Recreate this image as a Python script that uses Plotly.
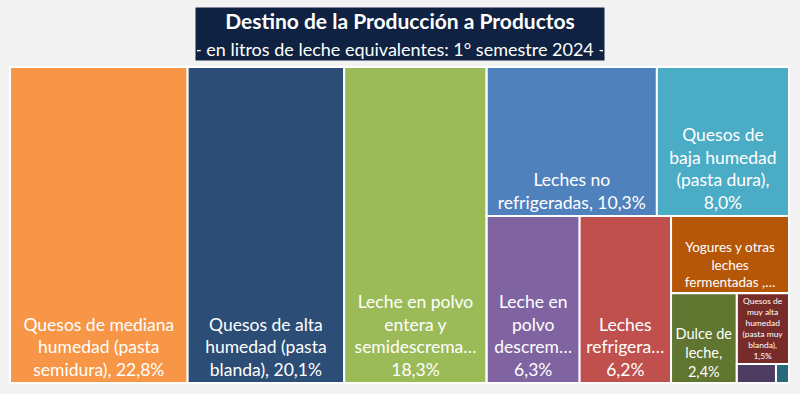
import plotly.graph_objects as go

# ---- data -------------------------------------------------------------
categories = [
    "Quesos de mediana humedad (pasta semidura)",
    "Quesos de alta humedad (pasta blanda)",
    "Leche en polvo entera y semidescremada",
    "Leches no refrigeradas",
    "Quesos de baja humedad (pasta dura)",
    "Leche en polvo descremada",
    "Leches refrigeradas",
    "Yogures y otras leches fermentadas",
    "Dulce de leche",
    "Quesos de muy alta humedad (pasta muy blanda)",
    "Otros A",
    "Otros B",
]
shares = [22.8, 20.1, 18.3, 10.3, 8.0, 6.3, 6.2, 3.7, 2.4, 1.5, 0.3, 0.1]

# label as shown on each tile (wrapped / truncated like the original)
tile_labels = [
    "Quesos de mediana<br>humedad (pasta<br>semidura), ",
    "Quesos de alta<br>humedad (pasta<br>blanda), ",
    "Leche en polvo<br>entera y<br>semidescrema…<br>",
    "Leches no<br>refrigeradas, ",
    "Quesos de<br>baja humedad<br>(pasta dura),<br>",
    "Leche en<br>polvo<br>descrem…<br>",
    "Leches<br>refrigera…<br>",
    "Yogures y otras<br>leches<br>fermentadas ,…",
    "Dulce de<br>leche,<br>",
    "Quesos de<br>muy alta<br>humedad<br>(pasta muy<br>blanda),<br>",
    "",
    "",
]
show_value = [True, True, True, True, True, True, True, False, True, True, False, False]

colors = ["#F79646", "#2C4D75", "#9BBB59", "#4F81BD", "#4BACC6", "#8064A2",
          "#C0504D", "#B65708", "#5F7530", "#772C2A", "#4D3B62", "#276A7C"]
font_sizes = [17.5, 17.5, 17.5, 17.5, 17.5, 17.5, 17.5, 13.5, 14.5, 8.5, 8, 8]

# layout grouping (Excel-like nested columns / rows)
tile_parent = ["", "", "", "g2", "g2", "g3", "g3", "g4", "g5", "g6", "g7", "g7"]
group_ids = ["g1", "g2", "g3", "g4", "g5", "g6", "g7"]
group_parent = ["", "g1", "g1", "g3", "g4", "g5", "g6"]

# ---- build ------------------------------------------------------------
def fmt(v):
    return f"{v:.1f}".replace(".", ",") + "%"

ids = [f"c{i}" for i in range(len(categories))] + group_ids
labels = categories + ["" for _ in group_ids]
parents = tile_parent + group_parent
values = shares + [0 for _ in group_ids]
texts = [lab + (fmt(v) if s else "") for lab, v, s in zip(tile_labels, shares, show_value)] + ["" for _ in group_ids]
mcolors = colors + ["#FFFFFF" for _ in group_ids]
fsizes = font_sizes + [10 for _ in group_ids]

fig = go.Figure(go.Treemap(
    ids=ids,
    labels=labels,
    parents=parents,
    values=values,
    branchvalues="remainder",
    sort=False,
    text=texts,
    textinfo="text",
    textposition="bottom center",
    textfont=dict(family="Lato", color="white", size=fsizes),
    marker=dict(colors=mcolors, line=dict(color="white", width=2),
                pad=dict(t=0, l=0, r=0, b=0), depthfade=False),
    tiling=dict(packing="slice-dice", pad=0),
    pathbar=dict(visible=False),
    hoverinfo="none",
))

fig.add_annotation(
    xref="paper", yref="paper", x=0.5, y=1.104, xanchor="center", yanchor="middle",
    text="<b>Destino de la Producción a Productos</b><br>"
         "<span style='font-size:18px'>- en litros de leche equivalentes: 1° semestre 2024 -</span>",
    showarrow=False, align="center",
    font=dict(family="Lato", size=21, color="white"),
    bgcolor="#0F2241", width=406, height=50, borderpad=1,
)

fig.update_layout(
    width=800, height=394,
    margin=dict(l=10, r=11, t=67, b=11),
    paper_bgcolor="#F2F2F2",
    showlegend=False,
)

fig.write_html("out.html", config={"displayModeBar": False},
               post_script="document.body.style.margin='0';")
